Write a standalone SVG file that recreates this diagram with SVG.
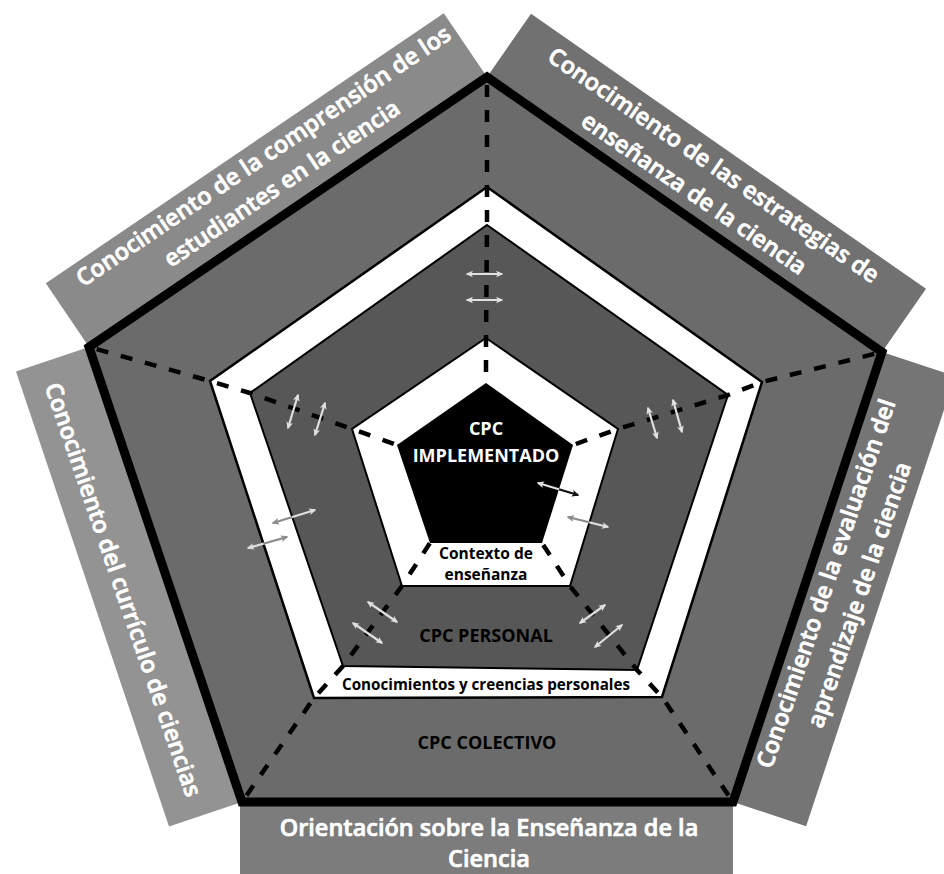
<svg xmlns="http://www.w3.org/2000/svg" width="944" height="874" viewBox="0 0 944 874">
<style>
.band{stroke:none}
.lbl{font-family:"Open Sans","Liberation Sans",sans-serif;font-weight:600;font-size:23.5px;fill:#ffffff;stroke:#ffffff;stroke-width:0.7px;text-anchor:middle}
.in{font-family:"Open Sans","Liberation Sans",sans-serif;font-weight:700;text-anchor:middle}
.spoke{fill:none;stroke:#000;stroke-width:4.5;stroke-dasharray:12 13}
.al{stroke:#e0e0e0;stroke-width:2.2;marker-start:url(#hl);marker-end:url(#hl)}
.ag{stroke:#8c8c8c;stroke-width:2.2;marker-start:url(#hg);marker-end:url(#hg)}
.ab{stroke:#111;stroke-width:2.2;marker-start:url(#hb);marker-end:url(#hb)}
</style>
<defs>
<marker id="hl" viewBox="0 0 10 10" refX="8" refY="5" markerWidth="3.4" markerHeight="3.4" orient="auto-start-reverse"><path d="M0,0.5 L10,5 L0,9.5 L2.5,5z" fill="#e0e0e0"/></marker>
<marker id="hg" viewBox="0 0 10 10" refX="8" refY="5" markerWidth="3.4" markerHeight="3.4" orient="auto-start-reverse"><path d="M0,0.5 L10,5 L0,9.5 L2.5,5z" fill="#8c8c8c"/></marker>
<marker id="hb" viewBox="0 0 10 10" refX="8" refY="5" markerWidth="3.4" markerHeight="3.4" orient="auto-start-reverse"><path d="M0,0.5 L10,5 L0,9.5 L2.5,5z" fill="#111"/></marker>
<clipPath id="wb"><path clip-rule="evenodd" d="M487,187 L762,382 L662,697 L314,698 L210,381 Z M487,225 L728,395 L637,670 L343,666 L250,393 Z M486,338 L618,429 L570,586 L402,586 L352,429 Z M486,383 L573,445 L542,543 L430,543 L397,445 Z"/></clipPath>
<clipPath id="wb2"><path clip-rule="evenodd" d="M486,338 L618,429 L570,586 L402,586 L352,429 Z M486,383 L573,445 L542,543 L430,543 L397,445 Z"/></clipPath>
</defs>
<rect width="944" height="874" fill="#ffffff"/>

<g id="band-top-left">
<polygon class="band" fill="#8a8a8a" points="89,347 487,77 443.8,13.3 45.8,283.3"/>
<g transform="translate(264,157) rotate(-34)"><text class="lbl" x="0" y="7">Conocimiento de la comprensión de los</text><text class="lbl" x="0" y="40">estudiantes en la ciencia</text></g>
</g>
<g id="band-top-right">
<polygon class="band" fill="#717171" points="487,77 882,352 926,288.8 531,13.8"/>
<g transform="translate(713,166) rotate(34.5)"><text class="lbl" x="0" y="7">Conocimiento de las estrategias de</text><text class="lbl" x="0" y="41.5">enseñanza de la ciencia</text></g>
</g>
<g id="band-right">
<polygon class="band" fill="#757575" points="882,352 733,802 806.1,826.2 955.1,376.2"/>
<g transform="translate(827,584) rotate(-71.3)"><text class="lbl" x="0" y="7">Conocimiento de la evaluación del</text><text class="lbl" x="0" y="42">aprendizaje de la ciencia</text></g>
</g>
<g id="band-left">
<polygon class="band" fill="#939393" points="89,347 242,802 169,826.5 16,371.5"/>
<g transform="translate(122,590) rotate(71)"><text class="lbl" x="0" y="7">Conocimiento del currículo de ciencias</text></g>
</g>
<g id="band-bottom">
<rect class="band" fill="#7c7c7c" x="240" y="797" width="493" height="77"/>
<text class="lbl" x="489" y="836">Orientación sobre la Enseñanza de la</text>
<text class="lbl" x="489" y="867">Ciencia</text>
</g>

<g id="cpc-colectivo">
<polygon points="487,77 882,352 733,802 242,802 89,347" fill="#6b6b6b" stroke="#000" stroke-width="9" stroke-linejoin="miter"/>
</g>
<g id="conocimientos-creencias">
<polygon points="487,187 762,382 662,697 314,698 210,381" fill="#ffffff" stroke="#000" stroke-width="2.5"/>
</g>
<g id="cpc-personal">
<polygon points="487,225 728,395 637,670 343,666 250,393" fill="#575757" stroke="#000" stroke-width="2"/>
</g>
<g id="contexto">
<polygon points="486,338 618,429 570,586 402,586 352,429" fill="#ffffff" stroke="#000" stroke-width="2"/>
</g>
<g id="cpc-implementado">
<polygon points="486,383 573,445 542,543 430,543 397,445" fill="#000000"/>
</g>

<g id="connectors">
<polyline class="spoke" stroke-dashoffset="-8" points="487,77 487,187 487,225 486,338 486,383"/>
<polyline class="spoke" stroke-dashoffset="-8" points="882,352 762,382 728,395 618,429 573,445"/>
<polyline class="spoke" stroke-dashoffset="-8" points="733,802 662,697 637,670 570,586 542,543"/>
<polyline class="spoke" stroke-dashoffset="-8" points="242,802 314,698 343,666 402,586 430,543"/>
<polyline class="spoke" stroke-dashoffset="-8" points="89,347 210,381 250,393 352,429 397,445"/>
<g id="arrows-light">
<line class="al" x1="467" y1="274" x2="502" y2="274"/>
<line class="al" x1="467" y1="300" x2="502" y2="300"/>
<line class="al" x1="298" y1="395" x2="288" y2="428"/>
<line class="al" x1="325" y1="403" x2="315" y2="435"/>
<line class="al" x1="273" y1="523" x2="315" y2="510"/>
<line class="al" x1="248" y1="548" x2="287" y2="537"/>
<line class="al" x1="648" y1="408" x2="657" y2="438"/>
<line class="al" x1="673" y1="400" x2="682" y2="432"/>
<line class="al" x1="568" y1="517" x2="608" y2="527"/>
<line class="al" x1="368" y1="602" x2="397" y2="622"/>
<line class="al" x1="353" y1="623" x2="382" y2="643"/>
<line class="al" x1="580" y1="623" x2="605" y2="605"/>
<line class="al" x1="595" y1="647" x2="622" y2="625"/>
<line class="al" x1="538" y1="483" x2="578" y2="495"/>
</g>
<g id="arrows-on-white" clip-path="url(#wb)">
<line class="ag" x1="273" y1="523" x2="315" y2="510"/>
<line class="ag" x1="248" y1="548" x2="287" y2="537"/>
<line class="ag" x1="568" y1="517" x2="608" y2="527"/>
</g>
<g clip-path="url(#wb2)">
<line class="ab" x1="538" y1="483" x2="578" y2="495"/>
</g>
</g>

<g id="labels-inner">
<text class="in" x="486" y="434.5" font-size="18" fill="#ffffff">CPC</text>
<text class="in" x="486" y="461.5" font-size="18" fill="#ffffff">IMPLEMENTADO</text>
<text class="in" x="486" y="558.5" font-size="15.5" fill="#000">Contexto de</text>
<text class="in" x="486" y="580" font-size="15.5" fill="#000">enseñanza</text>
<text class="in" x="486" y="641.5" font-size="18" fill="#000">CPC PERSONAL</text>
<text class="in" x="486" y="690" font-size="15.2" fill="#000">Conocimientos y creencias personales</text>
<text class="in" x="487" y="748.5" font-size="18" fill="#000">CPC COLECTIVO</text>
</g>
</svg>
